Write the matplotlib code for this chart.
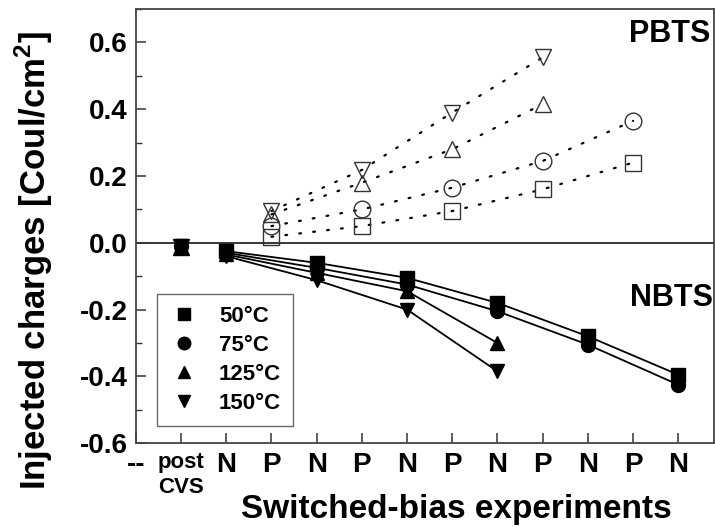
import matplotlib
matplotlib.use("Agg")
import matplotlib.pyplot as plt
from matplotlib.lines import Line2D
from matplotlib.ticker import MultipleLocator

plt.rcParams['font.family'] = ['Liberation Sans', 'DejaVu Sans']
plt.rcParams['mathtext.fontset'] = 'custom'
plt.rcParams['mathtext.bf'] = 'Liberation Sans:bold'
plt.rcParams['mathtext.rm'] = 'Liberation Sans'

# ---- data ----
tick_pos = list(range(0, 13))
tick_labels = ["--", "post\nCVS", "N", "P", "N", "P", "N", "P", "N", "P", "N", "P", "N"]

temps = ["50°C", "75°C", "125°C", "150°C"]
markers = ["s", "o", "^", "v"]

post_x = 1
post_vals = [-0.006, -0.010, -0.012, -0.014]

nbts_x = {
    "50°C": [2, 4, 6, 8, 10, 12],
    "75°C": [2, 4, 6, 8, 10, 12],
    "125°C": [2, 4, 6, 8],
    "150°C": [2, 4, 6, 8],
}
nbts_y = {
    "50°C": [-0.025, -0.060, -0.105, -0.180, -0.280, -0.395],
    "75°C": [-0.030, -0.075, -0.125, -0.205, -0.305, -0.425],
    "125°C": [-0.035, -0.090, -0.145, -0.300],
    "150°C": [-0.040, -0.112, -0.200, -0.385],
}

pbts_x = {
    "50°C": [3, 5, 7, 9, 11],
    "75°C": [3, 5, 7, 9, 11],
    "125°C": [3, 5, 7, 9],
    "150°C": [3, 5, 7, 9],
}
pbts_y = {
    "50°C": [0.018, 0.050, 0.095, 0.160, 0.240],
    "75°C": [0.050, 0.100, 0.165, 0.245, 0.365],
    "125°C": [0.085, 0.180, 0.280, 0.415],
    "150°C": [0.095, 0.218, 0.390, 0.555],
}

fig = plt.figure(figsize=(7.15, 5.27), dpi=100)
ax = fig.add_axes([0.190, 0.159, 0.808, 0.824])

ax.axhline(0, color="black", lw=1.1, zorder=1)

for t, m in zip(temps, markers):
    ax.plot(nbts_x[t], nbts_y[t], color="black", lw=1.3, marker=m,
            markersize=10, markerfacecolor="black", markeredgecolor="black", zorder=3)
    ax.plot(pbts_x[t], pbts_y[t], color="black", lw=1.6, linestyle=(0, (0.8, 5.5)),
            dash_capstyle="round", zorder=2)
    ax.plot(pbts_x[t], pbts_y[t], linestyle="none", marker=m, markersize=12,
            markerfacecolor="none", markeredgecolor="#333333", markeredgewidth=1.0, zorder=3)

post_sizes = [8, 10, 11, 11]
for v, m, ms in zip(post_vals, markers, post_sizes):
    ax.plot([post_x], [v], linestyle="none", marker=m, markersize=ms,
            color="black", zorder=3)

ax.set_xlim(0, 12.78)
ax.set_ylim(-0.6, 0.7)
ax.set_xticks(tick_pos)
ax.set_xticklabels(tick_labels)
for i, lab in enumerate(ax.get_xticklabels()):
    lab.set_fontweight("bold")
    if i == 1:
        lab.set_fontsize(16)
        lab.set_linespacing(1.3)
    else:
        lab.set_fontsize(20)

ax.yaxis.set_minor_locator(MultipleLocator(0.1))
ax.set_yticks([-0.6, -0.4, -0.2, 0.0, 0.2, 0.4, 0.6])
ax.set_yticklabels(["-0.6", "-0.4", "-0.2", "0.0", "0.2", "0.4", "0.6"],
                   fontsize=20, fontweight="bold")

ax.tick_params(axis="both", which="major", direction="in", length=7.5, width=1.1, colors="#333333",
               labelcolor="black")
ax.tick_params(axis="y", which="minor", direction="in", length=4, width=1.0, colors="#333333")
ax.tick_params(axis="x", which="major", pad=6)
ax.tick_params(axis="y", which="major", pad=6)

for s in ax.spines.values():
    s.set_linewidth(1.3)
    s.set_color("#444444")

ax.set_ylabel("Injected charges [Coul/cm$^{\\mathbf{2}}$]", fontsize=25, fontweight="bold")
ax.yaxis.set_label_coords(-0.140, 0.42)
ax.set_xlabel("Switched-bias experiments", fontsize=24, fontweight="bold")
ax.xaxis.set_label_coords(0.554, -0.118)

ax.text(12.72, 0.625, "PBTS", ha="right", va="center", fontsize=22, fontweight="bold")
ax.text(12.77, -0.165, "NBTS", ha="right", va="center", fontsize=22, fontweight="bold")

handles = [Line2D([], [], linestyle="none", marker=m, color="black", markersize=9) for m in markers]
leg = ax.legend(handles, temps, loc="lower left", bbox_to_anchor=(0.036, 0.039),
                frameon=True, fancybox=False, prop={"size": 16, "weight": "bold"},
                handletextpad=0.85, labelspacing=0.36, borderpad=0.55, handlelength=1.4,
                borderaxespad=0)
leg.get_frame().set_edgecolor("#444444")
leg.get_frame().set_linewidth(1.0)

fig.savefig("out.png", dpi=100)
